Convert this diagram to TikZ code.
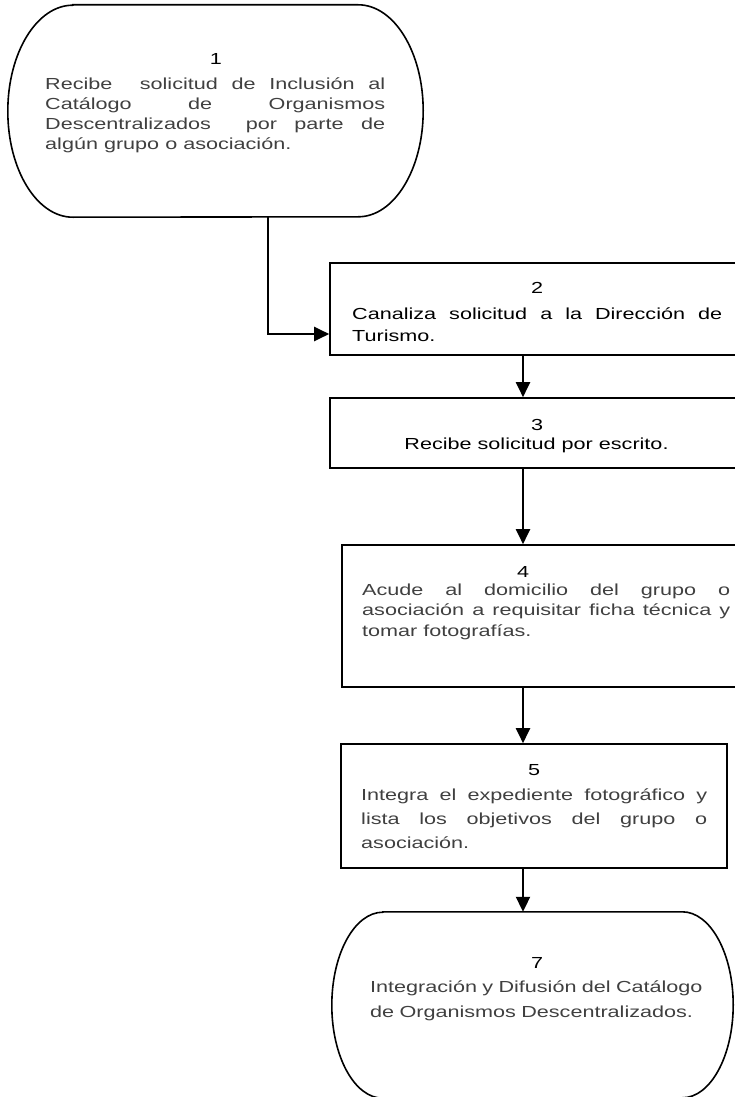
\documentclass[tikz,border=0pt]{standalone}
\usepackage{fontspec}
\setmainfont{Liberation Sans}[FakeStretch=1.35]
\usetikzlibrary{arrows.meta}
\definecolor{bodygray}{RGB}{64,64,64}
\hbadness=10000
\hyphenpenalty=10000
\begin{document}
\begin{tikzpicture}[x=1pt,y=-1pt,
  boxshape/.style={draw, line width=1.6pt, inner sep=0pt, rectangle},
  termframe/.style={draw=none, inner sep=0pt, rectangle},
  termline/.style={line width=1.6pt},
  conn/.style={line width=2pt, -{Triangle[length=15pt,width=14pt]}},
  numtxt/.style={anchor=base, inner sep=0pt, font=\fontsize{16}{19}\selectfont},
  bodytxt/.style={anchor=base west, inner sep=0pt, align=justify, text=bodygray, font=\fontsize{16}{#1}\selectfont},
]
\useasboundingbox (0,0) rectangle (735,1097);
\clip (0,0) rectangle (735,1097);
\coordinate (axis) at (523,0);

% shapes
\node[termframe, minimum width=415pt, minimum height=212pt] (t1) at (215.5,111) {};
\draw[termline] ([xshift=65pt]t1.north west) -- ([xshift=-65pt]t1.north east)
  arc[start angle=90,end angle=-90,x radius=65pt,y radius=106pt]
  -- ([xshift=65pt]t1.south west)
  arc[start angle=270,end angle=90,x radius=65pt,y radius=106pt] -- cycle;

\node[boxshape, minimum width=415pt, minimum height=92pt] (b2) at (537.5,309) {};
\node[boxshape, minimum width=415pt, minimum height=70pt] (b3) at (537.5,433) {};
\node[boxshape, minimum width=403pt, minimum height=142pt] (b4) at (543.5,616) {};
\node[boxshape, minimum width=386pt, minimum height=124pt] (b5) at (534,806) {};

\node[termframe, minimum width=401pt, minimum height=186pt] (t7) at (532.5,1005) {};
\draw[termline] ([xshift=51pt]t7.north west) -- ([xshift=-51pt]t7.north east)
  arc[start angle=90,end angle=-90,x radius=51pt,y radius=93pt]
  -- ([xshift=51pt]t7.south west)
  arc[start angle=270,end angle=90,x radius=51pt,y radius=93pt] -- cycle;

% texts
\node[numtxt] (n1) at (216,65) {1};
\node[bodytxt=20, text width=340pt] (x1) at (45,90) {Recibe\ \ solicitud de Inclusión al\linebreak Catálogo de Organismos\linebreak Descentralizados\ \ por parte de\linebreak algún grupo o asociación.};

\node[numtxt] (n2) at (537,293) {2};
\node[bodytxt=22, text=black, text width=370pt] (x2) at (352,319) {Canaliza solicitud a la Dirección de\linebreak Turismo.};

\node[numtxt] (n3) at (537,430) {3};
\node[numtxt] (x3) at (536.5,449) {Recibe solicitud por escrito.};

\node[numtxt] (n4) at (523,577) {4};
\node[bodytxt=20.5, text width=368pt] (x4) at (362,595) {Acude al domicilio del grupo o\linebreak asociación a requisitar ficha técnica y\linebreak tomar fotografías.};

\node[numtxt] (n5) at (534,775) {5};
\node[bodytxt=24, text width=346pt] (x5) at (361,800) {Integra el expediente fotográfico y\linebreak lista los objetivos del grupo o\linebreak asociación.};

\node[numtxt] (n7) at (537,968) {7};
\node[bodytxt=25, align=left, text width=350pt] (x7) at (370,992) {Integración y Difusión del Catálogo\\ de Organismos Descentralizados.};

% connectors
\draw[conn] ([xshift=52.5pt]t1.south) |- ([yshift=-25pt]b2.west);
\draw[conn] (b2.south -| axis) -- (b3.north -| axis);
\draw[conn] (b3.south -| axis) -- (b4.north -| axis);
\draw[conn] (b4.south -| axis) -- (b5.north -| axis);
\draw[conn] (b5.south -| axis) -- (t7.north -| axis);
\end{tikzpicture}
\end{document}
